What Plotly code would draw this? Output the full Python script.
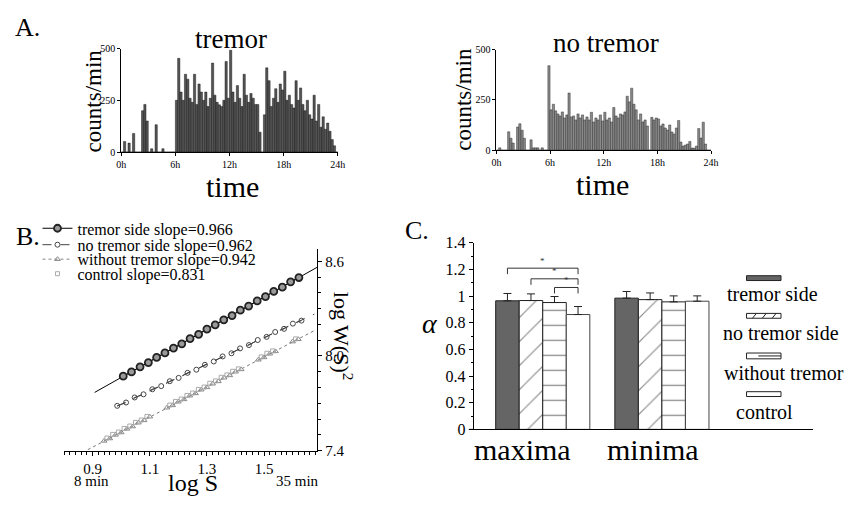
import plotly.graph_objects as go

W, H = 854, 507
def fx(p): return p / W
def fy(p): return 1 - p / H

FONT = "Liberation Serif, Times New Roman, DejaVu Serif, serif"

# ---------------- Panel A: activity counts (15-min bins) ----------------
time_ticks = [0, 6, 12, 18, 24]
time_tick_labels = ["0h", "6h", "12h", "18h", "24h"]
count_ticks = [0, 250, 500]
tremor_counts = [
    0, 51, 0, 43,   0, 90, 0, 0,   0, 200, 230, 150,   0, 16, 0, 132,
    0, 0, 16, 0,    0, 0, 0, 0,    250, 453, 290, 250, 376, 352, 260, 240,
    376, 230, 329, 290, 250, 290, 220, 260, 430, 275, 240, 228, 220, 250, 438, 260,
    492, 290, 240, 321, 260, 220, 376, 275, 240, 283, 260, 230, 230, 96, 0, 180,
    407, 345, 220, 260, 306, 240, 329, 300, 391, 250, 275, 230, 213, 345, 250, 310,
    230, 200, 250, 180, 160, 275, 150, 230, 120, 170, 110, 140, 100, 60, 30, 0,
]
no_tremor_counts = [
    0, 11, 0, 0,    0, 91, 59, 35,   0, 115, 131, 99,  59, 0, 0, 51,
    11, 11, 11, 0,  11, 0, 0, 420,   200, 228, 195, 180, 170, 190, 160, 175,
    284, 165, 170, 150, 180, 160, 175, 150, 165, 150, 188, 140, 160, 150, 175, 145,
    188, 150, 160, 140, 212, 170, 160, 180, 175, 190, 268, 240, 308, 228, 200, 150,
    180, 140, 150, 120, 0, 163, 150, 160, 155, 120, 130, 110, 100, 125, 90, 80,
    110, 147, 40, 20, 25, 30, 43, 10, 10, 20, 107, 60, 139, 30, 0, 0,
]
bin_width = 0.25
bin_centers = [i * bin_width + bin_width / 2 for i in range(len(tremor_counts))]

# ---------------- Panel B: log W(S)^2 vs log S ----------------
tremor_logS = [1.007, 1.036, 1.066, 1.095, 1.124, 1.153, 1.183, 1.212, 1.241, 1.271, 1.300,
               1.329, 1.359, 1.388, 1.417, 1.446, 1.476, 1.505, 1.534, 1.564, 1.593, 1.622]
tremor_logW = [7.872, 7.899, 7.931, 7.958, 7.991, 8.019, 8.050, 8.077, 8.110, 8.137, 8.170,
               8.197, 8.229, 8.256, 8.290, 8.316, 8.349, 8.376, 8.409, 8.436, 8.470, 8.497]
tremor_fit_x = [0.907, 1.686]
tremor_fit_y = [7.769, 8.562]

notremor_logS = [0.986, 1.017, 1.047, 1.078, 1.109, 1.140, 1.170, 1.201, 1.232, 1.263, 1.293,
                 1.324, 1.355, 1.386, 1.416, 1.447, 1.478, 1.509, 1.539, 1.570, 1.601, 1.631]
notremor_logW = [7.684, 7.705, 7.737, 7.757, 7.789, 7.809, 7.840, 7.861, 7.893, 7.913, 7.944,
                 7.965, 7.997, 8.017, 8.048, 8.069, 8.101, 8.121, 8.152, 8.172, 8.205, 8.224]
notremor_fit_x = [0.986, 1.676]
notremor_fit_y = [7.682, 8.265]

without_logS = [0.94, 0.96, 0.98, 1.00, 1.02, 1.04, 1.06, 1.08, 1.10, None,
                1.16, 1.18, 1.20, 1.22, 1.24, 1.26, 1.28, 1.30, 1.32, 1.34, 1.36, 1.38, 1.40, 1.42, None,
                1.48, 1.50, 1.52, 1.54, None, 1.60, 1.62]
without_logW = [7.462, 7.477, 7.500, 7.515, 7.538, 7.553, 7.577, 7.592, 7.615, None,
                7.672, 7.687, 7.710, 7.725, 7.748, 7.763, 7.786, 7.801, 7.824, 7.839, 7.862, 7.877, 7.900, 7.915, None,
                7.976, 7.991, 8.014, 8.029, None, 8.091, 8.106]
without_fit_x = [0.883, 1.676]
without_fit_y = [7.406, 8.161]

control_logS = [0.95, 0.97, 0.99, 1.01, 1.03, 1.05, 1.07, 1.09, 1.17, 1.19, 1.21, 1.23, 1.25,
                1.27, 1.29, 1.31, 1.33, 1.35, 1.37, 1.39, 1.41, 1.49, 1.51, 1.53, 1.61]
control_logW = [7.480, 7.503, 7.518, 7.541, 7.556, 7.579, 7.594, 7.617, 7.689, 7.712, 7.727, 7.750, 7.765,
                7.788, 7.803, 7.827, 7.842, 7.865, 7.880, 7.903, 7.918, 7.994, 8.017, 8.032, 8.108]

logS_ticks = [0.9, 1.1, 1.3, 1.5]
logS_tick_labels = ["0.9", "1.1", "1.3", "1.5"]
logW_ticks = [7.4, 8.0, 8.6]
logW_tick_labels = ["7.4", "8.0", "8.6"]

# ---------------- Panel C: alpha exponents ----------------
groups = [0, 1]
group_labels = ["maxima", "minima"]
series_names = ["tremor side", "no tremor side", "without tremor", "control"]
alpha_values = {
    "tremor side": [0.965, 0.985],
    "no tremor side": [0.967, 0.974],
    "without tremor": [0.952, 0.957],
    "control": [0.862, 0.962],
}
alpha_errors = {
    "tremor side": [0.055, 0.05],
    "no tremor side": [0.05, 0.05],
    "without tremor": [0.045, 0.045],
    "control": [0.06, 0.04],
}
alpha_ticks = [0, 0.2, 0.4, 0.6, 0.8, 1.0, 1.2, 1.4]
alpha_tick_labels = ["0", "0.2", "0.4", "0.6", "0.8", "1", "1.2", "1.4"]
bracket_from = [0, 1, 2]      # series index (maxima group)
bracket_to = [3, 3, 3]
bracket_y = [1.21, 1.13, 1.065]

fig = go.Figure()

# ---- Panel A traces
fig.add_trace(go.Bar(x=bin_centers, y=tremor_counts, width=bin_width,
                     marker=dict(color="#555555", line=dict(color="#000", width=0.4)),
                     xaxis="x", yaxis="y", showlegend=False))
fig.add_trace(go.Bar(x=bin_centers, y=no_tremor_counts, width=bin_width,
                     marker=dict(color="#8a8a8a", line=dict(color="#1a1a1a", width=0.4)),
                     xaxis="x2", yaxis="y2", showlegend=False))

# ---- Panel B traces
fig.add_trace(go.Scatter(x=tremor_fit_x, y=tremor_fit_y, mode="lines",
                         line=dict(color="black", width=1), xaxis="x3", yaxis="y3", showlegend=False))
fig.add_trace(go.Scatter(x=notremor_fit_x, y=notremor_fit_y, mode="lines",
                         line=dict(color="#444", width=1, dash="dash"), xaxis="x3", yaxis="y3", showlegend=False))
fig.add_trace(go.Scatter(x=without_fit_x, y=without_fit_y, mode="lines",
                         line=dict(color="#777", width=1, dash="dot"), xaxis="x3", yaxis="y3", showlegend=False))
fig.add_trace(go.Scatter(x=tremor_logS, y=tremor_logW, mode="lines+markers", name="tremor side slope=0.966",
                         line=dict(color="black", width=1),
                         marker=dict(symbol="circle", size=7, color="#9a9a9a", line=dict(color="#222", width=1.8)),
                         xaxis="x3", yaxis="y3", legend="legend"))
fig.add_trace(go.Scatter(x=notremor_logS, y=notremor_logW, mode="lines+markers", name="no tremor side slope=0.962",
                         line=dict(color="#444", width=1, dash="dash"),
                         marker=dict(symbol="circle-open", size=5, color="#444", line=dict(width=1)),
                         xaxis="x3", yaxis="y3", legend="legend2"))
fig.add_trace(go.Scatter(x=without_logS, y=without_logW, mode="lines+markers", name="without tremor slope=0.942",
                         line=dict(color="#888", width=1, dash="dot"), connectgaps=False,
                         marker=dict(symbol="triangle-up-open", size=5, color="#888", line=dict(width=1)),
                         xaxis="x3", yaxis="y3", legend="legend3"))
fig.add_trace(go.Scatter(x=control_logS, y=control_logW, mode="markers", name="control slope=0.831",
                         marker=dict(symbol="square-open", size=4, color="#aaa", line=dict(width=1)),
                         xaxis="x3", yaxis="y3", legend="legend4"))

# ---- Panel C traces
c_styles = {
    "tremor side": dict(color="#656565", line=dict(color="#222", width=1)),
    "no tremor side": dict(color="white", line=dict(color="#222", width=1),
                           pattern=dict(shape="/", size=17, solidity=0.07, fgcolor="#222", bgcolor="white")),
    "without tremor": dict(color="white", line=dict(color="#222", width=1),
                           pattern=dict(shape="-", size=15, solidity=0.09, fgcolor="#222", bgcolor="white")),
    "control": dict(color="white", line=dict(color="#444", width=1)),
}
for name in series_names:
    fig.add_trace(go.Bar(x=groups, y=alpha_values[name], name=name, marker=c_styles[name],
                         error_y=dict(type="data", symmetric=False, array=alpha_errors[name],
                                      arrayminus=[0, 0], color="#222", thickness=1, width=4),
                         xaxis="x4", yaxis="y4", showlegend=False))

bargap_c = 0.21
bar_w = (1 - bargap_c) / len(series_names)
def bar_pos(g, i):
    return groups[g] + (i - (len(series_names) - 1) / 2) * bar_w

shapes = []
annotations = []
for a, b, yb in zip(bracket_from, bracket_to, bracket_y):
    x1, x2 = bar_pos(0, a), bar_pos(0, b)
    shapes.append(dict(type="path", xref="x4", yref="y4",
                       path=f"M {x1},{yb-0.045} L {x1},{yb} L {x2},{yb} L {x2},{yb-0.045}",
                       line=dict(color="#333", width=1)))
    annotations.append(dict(x=(x1 + x2) / 2, y=yb + 0.005, xref="x4", yref="y4", text="*",
                            showarrow=False, yanchor="bottom", font=dict(family=FONT, size=9, color="#333")))

# baseline extension left of the C y-axis
shapes.append(dict(type="line", xref="paper", yref="paper", x0=fx(471), x1=fx(476),
                   y0=fy(436), y1=fy(436), line=dict(color="black", width=1)))

# Panel C legend swatches (symbol above text)
sw_x0, sw_x1 = fx(753), fx(788)
swatches = [(277, 282), (316, 321), (357, 363), (397, 402)]
fills = ["#656565", "white", "white", "white"]
for (t, b), f in zip(swatches, fills):
    shapes.append(dict(type="rect", xref="paper", yref="paper", x0=sw_x0, x1=sw_x1,
                       y0=fy(b), y1=fy(t), fillcolor=f, line=dict(color="#222", width=1)))
for dx in (6, 16, 26):
    shapes.append(dict(type="line", xref="paper", yref="paper", x0=fx(753 + dx), x1=fx(757 + dx),
                       y0=fy(321), y1=fy(316), line=dict(color="#222", width=1)))
shapes.append(dict(type="line", xref="paper", yref="paper", x0=fx(765), x1=fx(788),
                   y0=fy(360), y1=fy(360), line=dict(color="#222", width=1)))

legend_text_pos = [(779, 296), (788, 336), (791, 378), (771, 418)]
for name, (x, y) in zip(series_names, legend_text_pos):
    annotations.append(dict(x=fx(x), y=fy(y), xref="paper", yref="paper", text=name, showarrow=False,
                            xanchor="center", yanchor="middle", font=dict(family=FONT, size=20, color="black")))

def txt(x, y, s, size, angle=0, italic=False):
    annotations.append(dict(x=fx(x), y=fy(y), xref="paper", yref="paper", text=s, showarrow=False,
                            xanchor="center", yanchor="middle", textangle=angle,
                            font=dict(family=FONT, size=size, color="black",
                                      style="italic" if italic else "normal")))

txt(23, 20, "A.", 26)
txt(230, 32, "tremor", 27)
txt(610, 36, "no tremor", 27)
txt(90, 96, "counts/min", 23, angle=-90)
txt(466, 94, "counts/min", 23, angle=-90)
txt(231, 185, "time", 30)
txt(607, 183, "time", 30)
txt(23, 236, "B.", 26)
txt(88, 489, "8 min", 15)
txt(297, 489, "35 min", 15)
txt(191, 491, "log S", 24)
txt(344, 340, "log W(S)<sup>2</sup>", 22, angle=90)
txt(418, 230, "C.", 26)
txt(432, 326, "α", 28, italic=True)
txt(526, 457, "maxima", 30)
txt(658, 457, "minima", 30)

axis_common = dict(showgrid=False, zeroline=False, showline=True, linecolor="black", linewidth=1,
                   ticks="outside", tickcolor="black")

def legend_at(y):
    return dict(x=fx(33), y=fy(y), xanchor="left", yanchor="middle", bgcolor="rgba(0,0,0,0)",
                font=dict(family=FONT, size=16, color="black"), itemwidth=30, borderwidth=0)

fig.update_layout(
    width=W, height=H, margin=dict(l=0, r=0, t=0, b=0),
    paper_bgcolor="white", plot_bgcolor="white",
    barmode="group", bargap=bargap_c, bargroupgap=0,
    font=dict(family=FONT, color="black"),
    xaxis=dict(domain=[fx(118), fx(338)], range=[0, 24], anchor="y", tickvals=time_ticks,
               ticktext=time_tick_labels, ticklen=3, tickfont=dict(family=FONT, size=10, color="black"),
               **axis_common),
    yaxis=dict(domain=[fy(149), fy(42)], range=[0, 500], anchor="x", tickvals=count_ticks, ticklen=3,
               tickfont=dict(family=FONT, size=10, color="black"), **axis_common),
    xaxis2=dict(domain=[fx(499), fx(717)], range=[0, 24], anchor="y2", tickvals=time_ticks,
                ticktext=time_tick_labels, ticklen=3, tickfont=dict(family=FONT, size=10, color="black"),
                **axis_common),
    yaxis2=dict(domain=[fy(147), fy(43)], range=[0, 500], anchor="x2", tickvals=count_ticks, ticklen=3,
                tickfont=dict(family=FONT, size=10, color="black"), **axis_common),
    xaxis3=dict(domain=[fx(60), fx(317)], range=[0.80, 1.686], anchor="y3", tickvals=logS_ticks,
                ticktext=logS_tick_labels, ticklen=4,
                minor=dict(dtick=0.02, tick0=0.8, ticks="outside", ticklen=3, tickcolor="black"),
                tickfont=dict(family=FONT, size=15, color="black"), **axis_common),
    yaxis3=dict(domain=[fy(458), fy(249)], range=[7.4, 8.68], anchor="x3", side="right",
                tickvals=logW_ticks, ticktext=logW_tick_labels, ticklen=4,
                minor=dict(dtick=0.1, tick0=7.4, ticks="outside", ticklen=3, tickcolor="black"),
                tickfont=dict(family=FONT, size=15, color="black"), **axis_common),
    xaxis4=dict(domain=[fx(476), fx(820)], range=[-0.579, 2.264], anchor="y4", showticklabels=False,
                showgrid=False, zeroline=False, showline=True, linecolor="black", linewidth=1, ticks=""),
    yaxis4=dict(domain=[fy(436), fy(243)], range=[0, 1.4], anchor="x4", tickvals=alpha_ticks,
                ticktext=alpha_tick_labels, ticklen=4,
                minor=dict(dtick=0.1, ticks="outside", ticklen=2, tickcolor="black"),
                tickfont=dict(family=FONT, size=16, color="black"), **axis_common),
    showlegend=True,
    legend=legend_at(228),
    legend2=legend_at(245),
    legend3=legend_at(260),
    legend4=legend_at(275),
    shapes=shapes,
    annotations=annotations,
)

fig.write_html("out.html")
